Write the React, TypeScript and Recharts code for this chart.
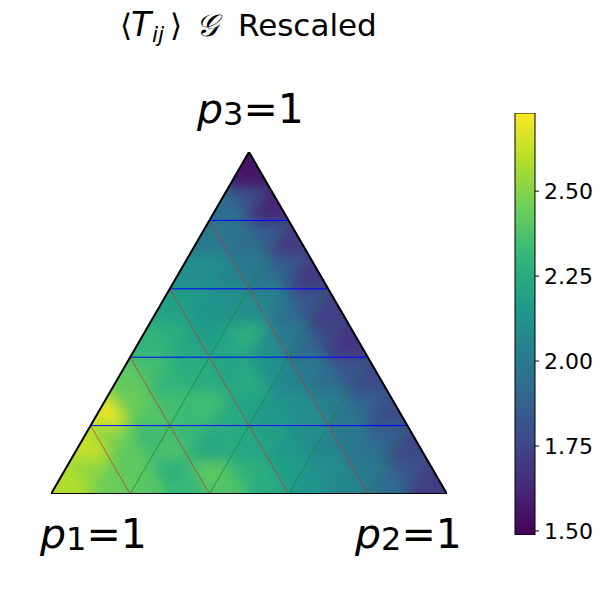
import React from 'react';
import { ComposedChart, BarChart, Bar, Scatter, XAxis, YAxis } from 'recharts';

// Values of <T_ij> on a 10-per-side triangular grid; row 0 = bottom row,
// each row listed left to right alternating upward / downward cells.
const row0 = [2.58, 2.52, 2.45, 2.42, 2.4, 2.28, 2.32, 2.42, 2.38, 2.28, 2.25, 2.18, 2.13, 2.1, 2.05, 2.0, 1.93, 1.82, 1.72];
const row1 = [2.62, 2.5, 2.42, 2.33, 2.38, 2.32, 2.22, 2.25, 2.22, 2.2, 2.15, 2.1, 2.05, 2.0, 1.95, 1.87, 1.76];
const row2 = [2.68, 2.45, 2.4, 2.35, 2.33, 2.35, 2.25, 2.2, 2.15, 2.12, 2.1, 2.03, 1.97, 1.88, 1.78];
const row3 = [2.42, 2.36, 2.3, 2.26, 2.25, 2.2, 2.25, 2.13, 2.05, 2.0, 1.93, 1.83, 1.77];
const row4 = [2.3, 2.27, 2.22, 2.18, 2.22, 2.27, 2.1, 2.0, 1.9, 1.75, 1.68];
const row5 = [2.2, 2.17, 2.13, 2.12, 2.1, 2.05, 1.93, 1.82, 1.72];
const row6 = [2.1, 2.1, 2.05, 2.0, 1.95, 1.85, 1.7];
const row7 = [2.0, 1.97, 1.93, 1.85, 1.7];
const row8 = [1.93, 1.8, 1.62];
const row9 = [1.56];
const rows = [row0, row1, row2, row3, row4, row5, row6, row7, row8, row9];

const colorbarTicks = [1.5, 1.75, 2.0, 2.25, 2.5];
const colorMin = 1.488;
const colorMax = 2.73;
const colorbarData = [{ name: 'cb', range: [colorMin, colorMax] }];
const gridFractions = [1, 2, 3, 4];

const viridis = ['#440154', '#482878', '#3e4989', '#31688e', '#26828e', '#1f9e89', '#35b779', '#6ece58', '#b5de2b', '#fde725'];

const N = 10;
const H = Math.sqrt(3) / 2;

// layout
const W = 600;
const M = { left: 51, right: 153, top: 152, bottom: 106 };
const PLOT_W = W - M.left - M.right;
const PLOT_H = W - M.top - M.bottom;
const SIDE_PX = PLOT_W / N;
const ROW_PX = PLOT_H / N;

function hexToRgb(h: string) {
  return [parseInt(h.slice(1, 3), 16), parseInt(h.slice(3, 5), 16), parseInt(h.slice(5, 7), 16)];
}
function colorOf(v: number) {
  let t = (v - colorMin) / (colorMax - colorMin);
  t = Math.max(0, Math.min(1, t));
  const p = t * (viridis.length - 1);
  const i = Math.min(viridis.length - 2, Math.floor(p));
  const f = p - i;
  const a = hexToRgb(viridis[i]);
  const b = hexToRgb(viridis[i + 1]);
  const c = a.map((x, k) => Math.round(x + (b[k] - x) * f));
  return `rgb(${c[0]},${c[1]},${c[2]})`;
}

const cells: { x: number; y: number; v: number; up: boolean }[] = [];
rows.forEach((vals, r) => {
  const h = H / N;
  const x0 = r * 0.05;
  const y0 = r * h;
  vals.forEach((v, k) => {
    const j = Math.floor(k / 2);
    if (k % 2 === 0) cells.push({ x: x0 + 0.1 * j + 0.05, y: y0 + h / 3, v, up: true });
    else cells.push({ x: x0 + 0.1 * (j + 1), y: y0 + (2 * h) / 3, v, up: false });
  });
});

// line segments in ternary-plane coordinates
const blueLines = gridFractions.map((k) => [{ x: k / 10, y: (k * H) / 5 }, { x: 1 - k / 10, y: (k * H) / 5 }]);
const redLines = gridFractions.map((k) => [{ x: k / 5, y: 0 }, { x: k / 10, y: (k * H) / 5 }]);
const greenLines = gridFractions.map((k) => [{ x: k / 5, y: 0 }, { x: 0.5 + k / 10, y: (1 - k / 5) * H }]);
const outline = [{ x: 0, y: 0 }, { x: 1, y: 0 }, { x: 0.5, y: H }, { x: 0, y: 0 }];

const CellShape = (props: any) => {
  const { cx, cy, payload } = props;
  const s = SIDE_PX / 2;
  const h = ROW_PX;
  const pts = payload.up
    ? [[cx - s, cy + h / 3], [cx + s, cy + h / 3], [cx, cy - (2 * h) / 3]]
    : [[cx - s, cy - h / 3], [cx + s, cy - h / 3], [cx, cy + (2 * h) / 3]];
  const col = colorOf(payload.v);
  return <polygon points={pts.map((p) => p.join(',')).join(' ')} fill={col} stroke={col} strokeWidth={0.8} />;
};
const NoDot = () => <g />;

const font = '"DejaVu Sans", sans-serif';
const triClip = `${M.left},${M.top + PLOT_H} ${M.left + PLOT_W},${M.top + PLOT_H} ${M.left + PLOT_W / 2},${M.top}`;

export default function App() {
  return (
    <div style={{ position: 'relative', width: 592, height: 592, margin: -8 }}>
      <style>{`.cellLayer { filter: url(#soften); clip-path: url(#triClip); }`}</style>
      <svg width={0} height={0} style={{ position: 'absolute' }}>
        <defs>
          <linearGradient id="viridisGrad" x1="0" y1="1" x2="0" y2="0">
            {viridis.map((c, i) => (
              <stop key={i} offset={`${(i / (viridis.length - 1)) * 100}%`} stopColor={c} />
            ))}
          </linearGradient>
          <filter id="soften" x="-10%" y="-10%" width="120%" height="120%" colorInterpolationFilters="sRGB">
            <feGaussianBlur in="SourceGraphic" stdDeviation="7" />
            <feComponentTransfer>
              <feFuncA type="linear" slope="40" intercept="0" />
            </feComponentTransfer>
          </filter>
          <clipPath id="triClip" clipPathUnits="userSpaceOnUse">
            <polygon points={triClip} />
          </clipPath>
        </defs>
      </svg>
      <div style={{ position: 'absolute', left: 0, top: 0 }}>
        <ComposedChart width={W} height={W} margin={M}>
          <XAxis type="number" dataKey="x" domain={[0, 1]} hide allowDataOverflow />
          <YAxis type="number" dataKey="y" domain={[0, H]} hide allowDataOverflow />
          <Scatter className="cellLayer" data={cells} dataKey="y" shape={CellShape} isAnimationActive={false} />
          {blueLines.map((seg, i) => (
            <Scatter key={'b' + i} data={seg} dataKey="y" shape={NoDot} line={{ stroke: '#0000ff', strokeWidth: 1 }} isAnimationActive={false} />
          ))}
          {redLines.map((seg, i) => (
            <Scatter key={'r' + i} data={seg} dataKey="y" shape={NoDot} line={{ stroke: '#d62728', strokeWidth: 0.8, strokeOpacity: 0.85 }} isAnimationActive={false} />
          ))}
          {greenLines.map((seg, i) => (
            <Scatter key={'g' + i} data={seg} dataKey="y" shape={NoDot} line={{ stroke: '#1a8030', strokeWidth: 0.8, strokeOpacity: 0.85 }} isAnimationActive={false} />
          ))}
          <Scatter data={outline} dataKey="y" shape={NoDot} line={{ stroke: '#000', strokeWidth: 2, strokeLinejoin: 'miter' }} isAnimationActive={false} />
        </ComposedChart>
      </div>
      <div style={{ position: 'absolute', left: 500, top: 100 }}>
        <BarChart width={92} height={450} data={colorbarData} margin={{ left: 15, right: 0, top: 13, bottom: 15 }} barCategoryGap={0}>
          <XAxis dataKey="name" type="category" hide />
          <YAxis
            type="number"
            orientation="right"
            width={57}
            domain={[colorMin, colorMax]}
            ticks={colorbarTicks}
            tickFormatter={(v: number) => v.toFixed(2)}
            axisLine={false}
            tickLine={{ stroke: '#000' }}
            tickSize={4}
            tickMargin={5}
            tick={{ fontSize: 22, fill: '#000', fontFamily: font }}
            interval={0}
            allowDataOverflow
          />
          <Bar dataKey="range" fill="url(#viridisGrad)" stroke="#000" strokeWidth={1} isAnimationActive={false} />
        </BarChart>
      </div>
      <svg width={592} height={592} style={{ position: 'absolute', left: 0, top: 0, pointerEvents: 'none' }}>
        <text y={36} fontSize={31} fontFamily={font} fill="#000">
          <tspan x={120}>⟨</tspan>
          <tspan x={131} fontStyle="italic" fontSize={33}>T</tspan>
          <tspan x={152} fontStyle="italic" fontSize={22} dy={6}>ij</tspan>
          <tspan x={170} dy={-6}>⟩</tspan>
          <tspan x={196} fontStyle="italic">𝒢</tspan>
          <tspan x={238}>Rescaled</tspan>
        </text>
        <text x={197} y={123} fontSize={41} fontFamily={font} fill="#000">
          <tspan fontStyle="italic">p</tspan>
          <tspan fontSize={32} dy={2}>3</tspan>
          <tspan dy={-2}>=1</tspan>
        </text>
        <text x={40} y={548} fontSize={41} fontFamily={font} fill="#000">
          <tspan fontStyle="italic">p</tspan>
          <tspan fontSize={32} dy={2}>1</tspan>
          <tspan dy={-2}>=1</tspan>
        </text>
        <text x={355} y={548} fontSize={41} fontFamily={font} fill="#000">
          <tspan fontStyle="italic">p</tspan>
          <tspan fontSize={32} dy={2}>2</tspan>
          <tspan dy={-2}>=1</tspan>
        </text>
      </svg>
    </div>
  );
}
